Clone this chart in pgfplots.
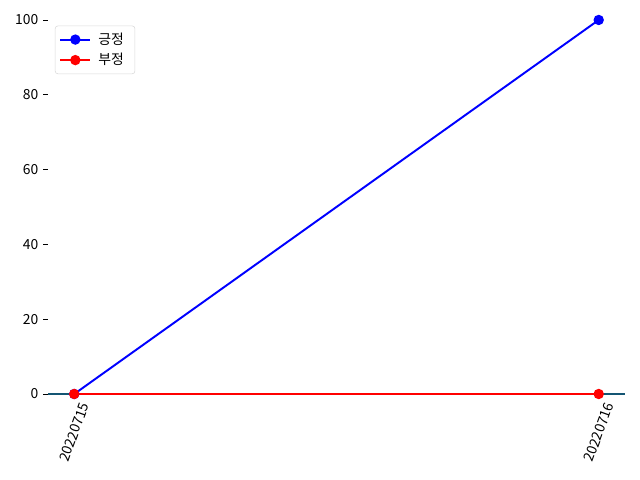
\documentclass[border=0pt]{standalone}
\usepackage{fontspec}
\setmainfont{Noto Sans CJK KR}
\usepackage{pgfplots}
\pgfplotsset{compat=1.18}
\definecolor{spine}{RGB}{20,85,115}
\begin{document}
\begin{tikzpicture}
\useasboundingbox (0,0) rectangle (460.8pt,345.6pt);
\begin{axis}[
  scale only axis,
  width=415.4pt, height=269.3pt,
  at={(34.56pt,61.92pt)}, anchor=south west,
  xmin=-0.05, xmax=1.05, ymin=0, ymax=100,
  axis line style={draw=none},
  axis x line*=bottom, axis y line*=left,
  xtick={0,1}, xticklabels={20220715,20220716},
  ytick={0,20,40,60,80,100},
  tick style={black, line width=0.6pt},
  major tick length=3.5pt,
  tick align=outside,
  font=\fontsize{10pt}{12pt}\selectfont,
  /pgf/number format/assume math mode=true,
  yticklabel style={font=\fontsize{10pt}{12pt}\selectfont},
  xticklabel style={font=\fontsize{10pt}{12pt}\selectfont, yshift=-24pt, rotate=70, anchor=center},
  clip=false,
  legend image code/.code={\draw[mark repeat=2,mark phase=2,#1] plot coordinates {(0pt,0pt) (10.8pt,0pt) (21.6pt,0pt)};},
  legend style={at={(0.012,0.985)}, anchor=north west, draw=black!15, rounded corners=2pt, font=\fontsize{10pt}{12pt}\selectfont, row sep=1pt, inner sep=3pt, nodes={inner xsep=5pt}},
  legend cell align=left,
]
\draw[spine, line width=0.8pt] (axis cs:-0.05,0) -- (axis cs:1.05,0);
\addplot[blue, line width=1.4pt, mark=*, mark size=3pt, mark options={solid}] coordinates {(0,0) (1,100)};
\addlegendentry{긍정}
\addplot[red, line width=1.4pt, mark=*, mark size=3pt, mark options={solid}] coordinates {(0,0) (1,0)};
\addlegendentry{부정}
\end{axis}
\end{tikzpicture}
\end{document}
